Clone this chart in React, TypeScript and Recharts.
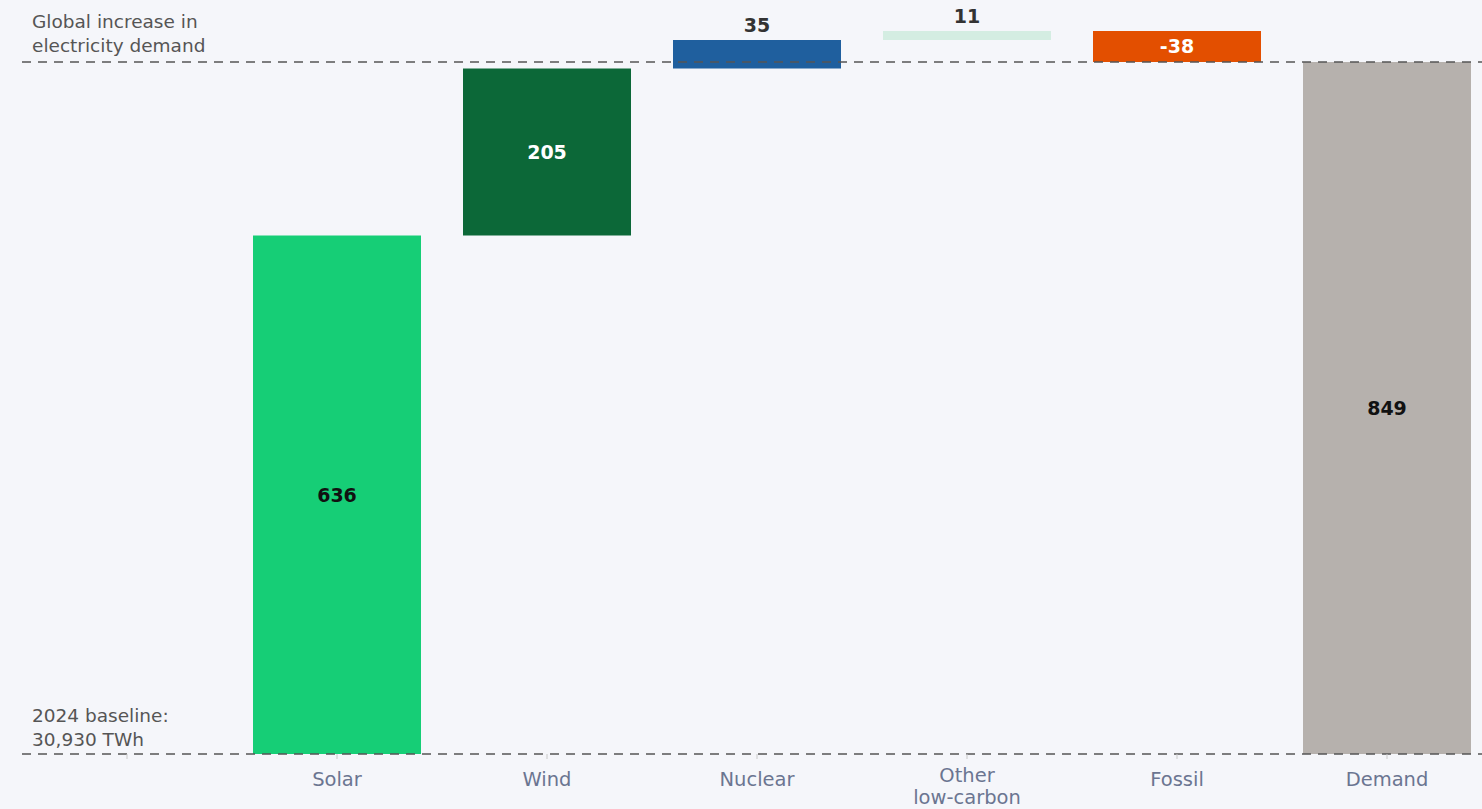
import React from 'react'
import { Bar, BarChart, Cell, LabelList, ReferenceLine, XAxis, YAxis } from 'recharts'

const categories = ['', 'Solar', 'Wind', 'Nuclear', 'Other\nlow-carbon', 'Fossil', 'Demand']
const changes: (number | null)[] = [null, 636, 205, 35, 11, -38, 849]
const colors = ['transparent', '#16ce76', '#0c6838', '#1f5f9e', '#d4ede2', '#e34f00', '#b6b1ad']
const labelColors = ['#111', '#111', '#fff', '#333', '#333', '#fff', '#111']
const labelAbove = [false, false, false, true, true, false, false]
const totalLine = 849

// waterfall: invisible base + visible step
let running = 0
const data = categories.map((name, i) => {
  const v = changes[i]
  if (v == null) return { name, base: null, step: null, value: null }
  if (name === 'Demand') return { name, base: 0, step: v, value: v }
  const start = running
  running += v
  return { name, base: Math.min(start, running), step: Math.abs(v), value: v }
})

const FONT = '"DejaVu Sans", sans-serif'

const Tick = (props: any) => {
  const { x, y, payload } = props
  const lines = String(payload.value).split('\n')
  const first = lines.length > 1 ? y + 21 : y + 25
  return (
    <g>
      {lines.map((l, i) => (
        <text key={i} x={x} y={first + i * 22} textAnchor="middle" fill="#6b7591" fontSize={19.5} fontFamily={FONT}>
          {l}
        </text>
      ))}
    </g>
  )
}

const ValueLabel = (props: any) => {
  const { x, y, width, height, value } = props
  const idx = data.findIndex((d) => d.value === value)
  if (idx < 0) return null
  const cx = x + width / 2
  const ty = labelAbove[idx] ? y - 8 : y + height / 2 + 7
  return (
    <text x={cx} y={ty} textAnchor="middle" fill={labelColors[idx]} fontSize={19} fontWeight={700} fontFamily={FONT}>
      {value}
    </text>
  )
}

const noteStyle: React.CSSProperties = {
  position: 'absolute',
  left: 32,
  fontFamily: FONT,
  fontSize: 18.5,
  lineHeight: '24px',
  color: '#555',
}

export default function App() {
  return (
    <div style={{ position: 'fixed', inset: 0, background: '#f5f6fa', overflow: 'hidden' }}>
      <div style={{ position: 'absolute', left: 8, top: 0, width: 1474, height: 809 }}>
        <BarChart
          width={1490}
          height={809}
          data={data}
          margin={{ top: 20.4, right: 6, bottom: 0, left: 14 }}
          barCategoryGap="10%"
        >
          <XAxis
            dataKey="name"
            height={55}
            axisLine={false}
            tickLine={{ stroke: '#c8c8c8' }}
            tickSize={5}
            tick={<Tick />}
            interval={0}
          />
          <YAxis hide domain={[0, 900]} />
          <Bar dataKey="base" stackId="w" fill="transparent" isAnimationActive={false} />
          <Bar dataKey="step" stackId="w" isAnimationActive={false}>
            {data.map((d, i) => (
              <Cell key={d.name + i} fill={colors[i]} />
            ))}
            <LabelList dataKey="value" content={<ValueLabel />} />
          </Bar>
          <ReferenceLine y={0} stroke="#555" strokeWidth={1.5} strokeDasharray="9 7" />
          <ReferenceLine y={totalLine} stroke="#555" strokeWidth={1.5} strokeDasharray="9 7" />
        </BarChart>
      </div>
      <div style={{ ...noteStyle, top: 10 }}>
        Global increase in
        <br />
        electricity demand
      </div>
      <div style={{ ...noteStyle, top: 704 }}>
        2024 baseline:
        <br />
        30,930 TWh
      </div>
    </div>
  )
}
